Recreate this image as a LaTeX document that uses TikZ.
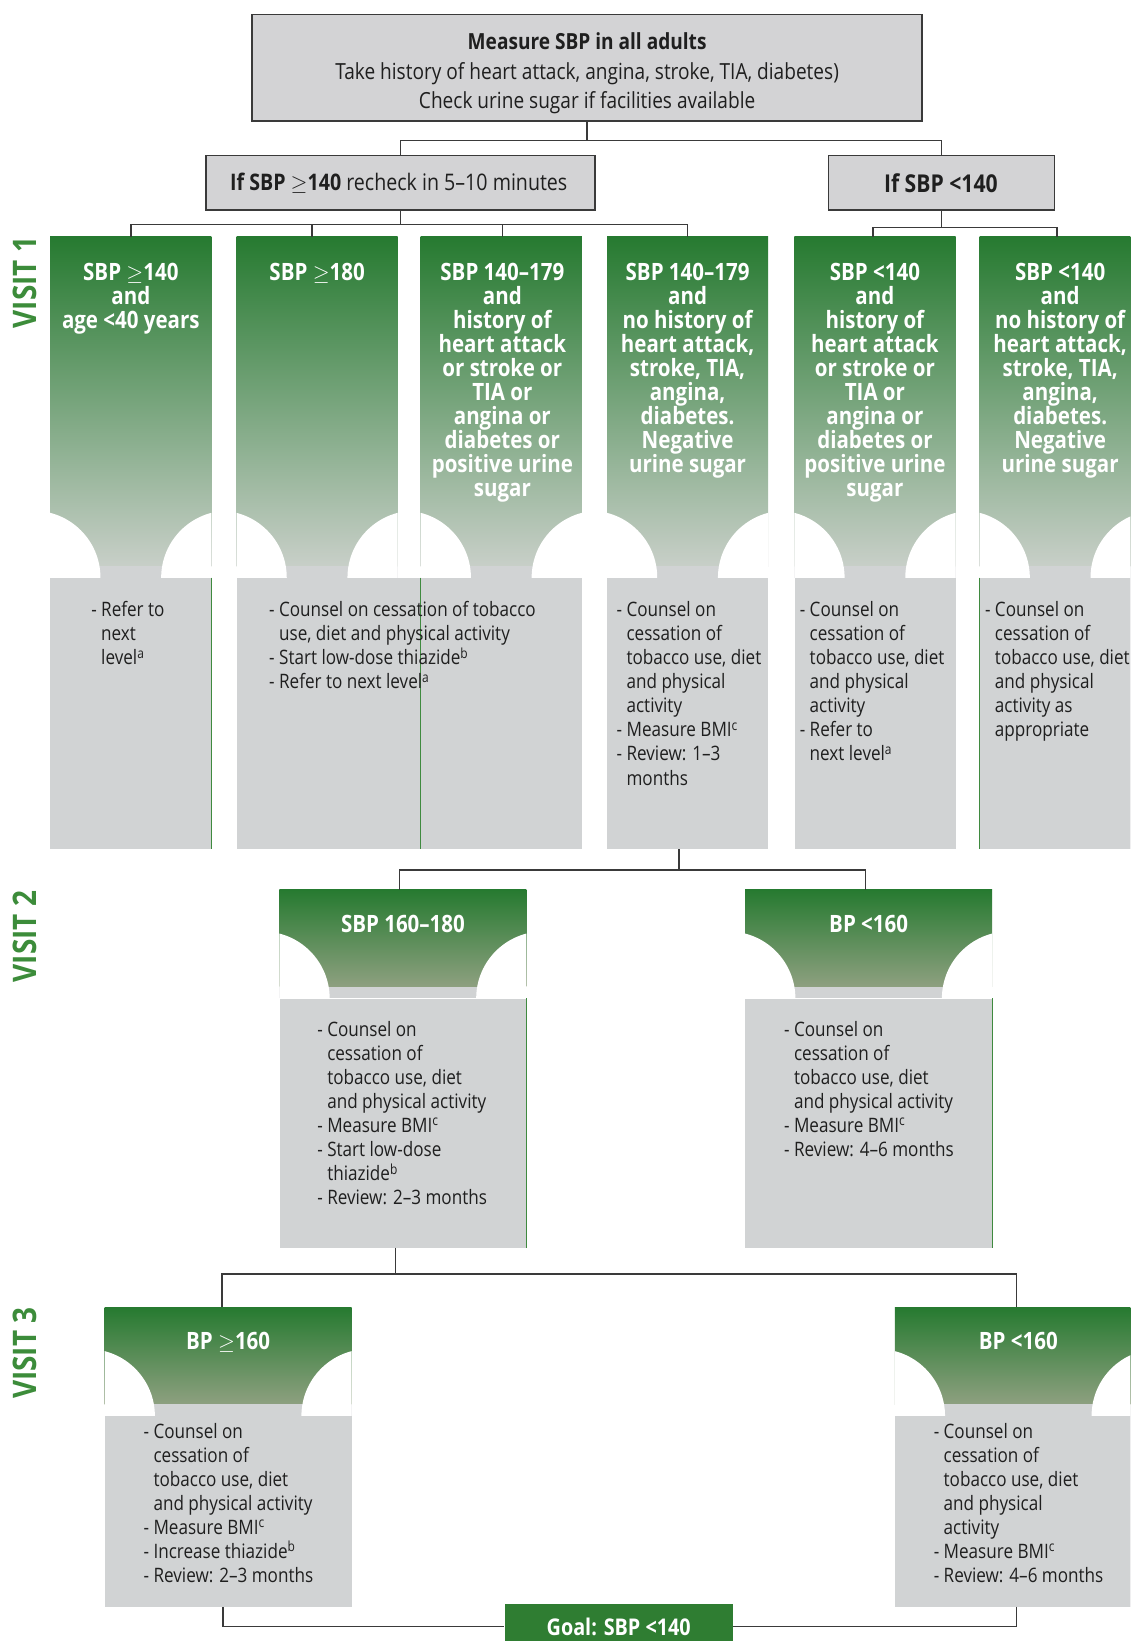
\documentclass[tikz,border=0pt]{standalone}
\usepackage{fontspec}
\setmainfont{Open Sans}[FakeStretch=0.86]
\newcommand\fs[2]{\fontsize{#1}{#2}\selectfont}
\newcommand\ind{\hphantom{- }}
\definecolor{gtop}{HTML}{267A30}
\definecolor{gbotA}{HTML}{C8CFC8}
\definecolor{gbotB}{HTML}{8EA080}
\definecolor{boxgray}{HTML}{D1D3D4}
\definecolor{topgray}{HTML}{D3D3D5}
\definecolor{linec}{HTML}{3A3A3A}
\definecolor{labelgreen}{HTML}{3C8C3A}
\definecolor{goalgreen}{HTML}{2F7D32}
\definecolor{edgegreen}{HTML}{3F8A3F}
\newcommand\greencol[5]{%
  \begin{scope}
    \clip (#1,#3) rectangle (#2,#4);
    \shade[top color=gtop,bottom color=#5] (#1,#3) rectangle (#2,#4-11);
    \fill[boxgray] (#1,#4-11) rectangle (#2,#4);
    \fill[white] (#1-16,#4) circle[radius=64pt];
    \fill[white] (#2+16,#4) circle[radius=64pt];
  \end{scope}}
\tikzset{
  conn/.style={draw=linec, line width=1.3pt},
  topbox/.style={draw=linec, fill=topgray, line width=1.5pt, inner sep=0pt, anchor=north west},
  hdr/.style={text=white, font=\bfseries\fs{22.8}{23}, align=center, inner sep=0pt, anchor=north},
  body/.style={text=black!88, font=\fs{19}{23}, align=left, inner sep=0pt, anchor=north west},
  graybox/.style={fill=boxgray, inner sep=0pt, anchor=north west, draw=none},
  vlabel/.style={rotate=90, text=labelgreen, font=\bfseries\fs{31}{31}, inner sep=0pt},
  goalbox/.style={fill=goalgreen, text=white, font=\bfseries\fs{22}{23}, inner sep=0pt, anchor=north west},
  edge line/.style={draw=edgegreen, line width=0.8pt},
}
\begin{document}
\begin{tikzpicture}[x=1pt,y=-1pt]
\useasboundingbox (0,0) rectangle (1080,1568);
\clip (0,0) rectangle (1080,1568);
\fill[white] (0,0) rectangle (1080,1568);

% ---------- top boxes ----------
\node[topbox, minimum width=640pt, minimum height=102pt] (top) at (240,13) {};
\node[font=\fs{21.2}{28}, align=center, inner sep=0pt, text=black!88] (toptext) at (561,70)
  {\textbf{Measure SBP in all adults}\\Take history of heart attack, angina, stroke, TIA, diabetes)\\Check urine sugar if facilities available};
\node[topbox, minimum width=372pt, minimum height=52pt] (hi) at (196,148) {};
\node[font=\fs{21.8}{24}, inner sep=0pt, text=black!88] (hitext) at (381,175) {\textbf{If SBP $\geq$140} recheck in 5–10 minutes};
\node[topbox, minimum width=216pt, minimum height=52pt] (lo) at (791,148) {};
\node[font=\bfseries\fs{23.5}{24}, inner sep=0pt, text=black!88] (lotext) at (899,175) {If SBP <140};

% ---------- visit labels ----------
\node[vlabel] (visit1) at (24,270) {VISIT 1};
\node[vlabel] (visit2) at (24,895) {VISIT 2};
\node[vlabel] (visit3) at (24,1293) {VISIT 3};

% ---------- visit 1 columns ----------
\greencol{48}{202}{226}{552}{gbotA}
\greencol{226}{380}{226}{552}{gbotA}
\greencol{402}{556}{226}{552}{gbotA}
\greencol{580}{734}{226}{552}{gbotA}
\greencol{759}{913}{226}{552}{gbotA}
\greencol{936}{1090}{226}{552}{gbotA}

\node[hdr] (h1) at (125,251) {SBP $\geq$140\\and\\age <40 years};
\node[hdr] (h2) at (303,251) {SBP $\geq$180};
\node[hdr] (h3) at (480,251) {SBP 140–179\\and\\history of\\heart attack\\or stroke or\\TIA or\\angina or\\diabetes or\\positive urine\\sugar};
\node[hdr] (h4) at (657,251) {SBP 140–179\\and\\no history of\\heart attack,\\stroke, TIA,\\angina,\\diabetes.\\Negative\\urine sugar};
\node[hdr] (h5) at (836,251) {SBP <140\\and\\history of\\heart attack\\or stroke or\\TIA or\\angina or\\diabetes or\\positive urine\\sugar};
\node[hdr] (h6) at (1013,251) {SBP <140\\and\\no history of\\heart attack,\\stroke, TIA,\\angina,\\diabetes.\\Negative\\urine sugar};

\node[graybox, minimum width=154pt, minimum height=259pt] (g1) at (48,552) {};
\node[graybox, minimum width=330pt, minimum height=259pt] (g23) at (226,552) {};
\node[graybox, minimum width=154pt, minimum height=259pt] (g4) at (580,552) {};
\node[graybox, minimum width=154pt, minimum height=259pt] (g5) at (759,552) {};
\node[graybox, minimum width=154pt, minimum height=259pt] (g6) at (936,552) {};
\draw[edge line] (g1.north east) -- (g1.south east);
\draw[edge line] (402,552) -- (402,811);
\draw[edge line] (g6.north west) -- (g6.south west);

\node[body] (b1) at (87,574.5) {- Refer to\\\ind next\\\ind level\textsuperscript{a}};
\node[body] (b23) at (257,574.5) {- Counsel on cessation of tobacco\\\ind use, diet and physical activity\\- Start low-dose thiazide\textsuperscript{b}\\- Refer to next level\textsuperscript{a}};
\node[body] (b4) at (589,574.5) {- Counsel on\\\ind cessation of\\\ind tobacco use, diet\\\ind and physical\\\ind activity\\- Measure BMI\textsuperscript{c}\\- Review: 1–3\\\ind months};
\node[body] (b5) at (764,574.5) {- Counsel on\\\ind cessation of\\\ind tobacco use, diet\\\ind and physical\\\ind activity\\- Refer to\\\ind next level\textsuperscript{a}};
\node[body] (b6) at (941,574.5) {- Counsel on\\\ind cessation of\\\ind tobacco use, diet\\\ind and physical\\\ind activity as\\\ind appropriate};

% column top coordinates
\coordinate (t1) at (125,226);
\coordinate (t2) at (298,226);
\coordinate (t3) at (480,226);
\coordinate (t4) at (657,226);
\coordinate (t5) at (834,226);
\coordinate (t6) at (1010,226);

\draw[conn] (top.south) -- ++(0,18) -| (hi.north);
\draw[conn] (top.south) -- ++(0,18) -| (lo.north);
\foreach \t in {t1,t2,t3,t4} \draw[conn] (hi.south) -- ++(0,13) -| (\t);
\foreach \t in {t5,t6} \draw[conn] (lo.south) -- ++(0,16) -| (\t);

% ---------- visit 2 ----------
\greencol{267}{503}{850}{954}{gbotB}
\greencol{712}{948}{850}{954}{gbotB}
\node[hdr] (h7) at (385,874) {SBP 160–180};
\node[hdr] (h8) at (830,874) {BP <160};
\node[graybox, minimum width=236pt, minimum height=238pt] (g7) at (267,954) {};
\node[graybox, minimum width=236pt, minimum height=238pt] (g8) at (712,954) {};
\draw[edge line] (g7.north east) -- (g7.south east);
\draw[edge line] (g8.north east) -- (g8.south east);
\node[body] (b7) at (303,975.5) {- Counsel on\\\ind cessation of\\\ind tobacco use, diet\\\ind and physical activity\\- Measure BMI\textsuperscript{c}\\- Start low-dose\\\ind thiazide\textsuperscript{b}\\- Review: 2–3 months};
\node[body] (b8) at (749,975.5) {- Counsel on\\\ind cessation of\\\ind tobacco use, diet\\\ind and physical activity\\- Measure BMI\textsuperscript{c}\\- Review: 4–6 months};
\coordinate (t7) at (382,850);
\coordinate (t8) at (827,850);
\draw[conn] ([xshift=-8.5pt]g4.south) -- ++(0,20) -| (t7);
\draw[conn] ([xshift=-8.5pt]g4.south) -- ++(0,20) -| (t8);

% ---------- visit 3 ----------
\greencol{100}{336}{1249}{1353}{gbotB}
\greencol{855}{1091}{1249}{1353}{gbotB}
\node[hdr] (h9) at (218,1273) {BP $\geq$160};
\node[hdr] (h10) at (973,1273) {BP <160};
\node[graybox, minimum width=236pt, minimum height=182pt] (g9) at (100,1353) {};
\node[graybox, minimum width=236pt, minimum height=182pt] (g10) at (855,1353) {};
\node[body] (b9) at (137,1359.5) {- Counsel on\\\ind cessation of\\\ind tobacco use, diet\\\ind and physical activity\\- Measure BMI\textsuperscript{c}\\- Increase thiazide\textsuperscript{b}\\- Review: 2–3 months};
\node[body] (b10) at (892,1359.5) {- Counsel on\\\ind cessation of\\\ind tobacco use, diet\\\ind and physical\\\ind activity\\- Measure BMI\textsuperscript{c}\\- Review: 4–6 months};
\coordinate (t9) at (212,1249);
\coordinate (t10) at (971,1249);
\draw[conn] ([xshift=-7pt]g7.south) -- ++(0,25) -| (t9);
\draw[conn] ([xshift=-7pt]g7.south) -- ++(0,25) -| (t10);

% ---------- goal ----------
\node[goalbox, minimum width=218pt, minimum height=44pt] (goal) at (482,1532) {Goal: SBP <140};
\draw[conn] ([xshift=-5pt]g9.south) |- (goal.west);
\draw[conn] ([xshift=-2pt]g10.south) |- (goal.east);
\end{tikzpicture}
\end{document}
